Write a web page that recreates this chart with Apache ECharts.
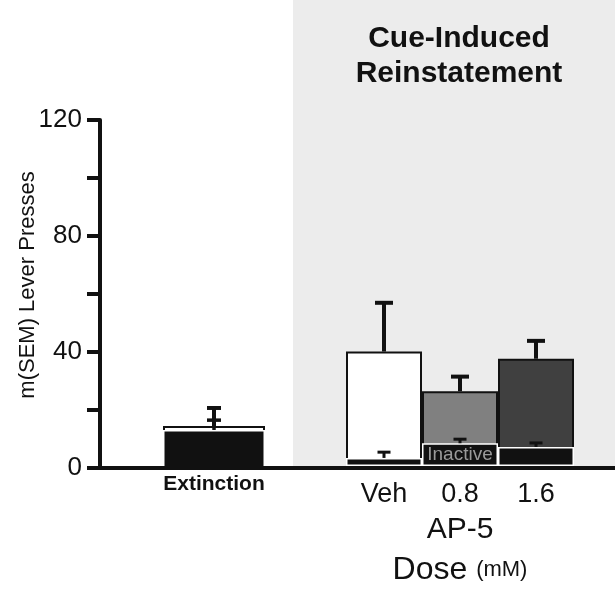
<!DOCTYPE html>
<html>
<head>
<meta charset="utf-8">
<script src="https://cdn.jsdelivr.net/npm/echarts@6/dist/echarts.min.js"></script>
<style>
  html, body { margin: 0; padding: 0; background: #fff; }
  #chart { width: 615px; height: 591px; }
</style>
</head>
<body>
<div id="chart"></div>
<script>
// values (lever presses, mean and SEM)
var yTicks = [0, 40, 80, 120];
var extLabel = ['Extinction'];
var extActive = [14.5];
var extActiveSem = [6.2];
var extInactive = [13.1];
var extInactiveSem = [3.4];

var doseLabels = ['Veh', '0.8', '1.6'];
var reinActive = [39.7, 25.9, 37.2];
var reinActiveSem = [16.9, 5.1, 6.2];
var reinInactive = [2.8, 7.9, 6.6];
var reinInactiveSem = [2.0, 1.4, 1.4];
var activeColors = ['#ffffff', '#808080', '#404040'];

var FONT = '"Liberation Sans", Arial, Helvetica, sans-serif';
var INK = '#111';

var chart = echarts.init(document.getElementById('chart'));

// error bar drawn from mean up to mean+sem
function errBar(capW, lw) {
  return function (params, api) {
    var x = api.value(0), m = api.value(1), s = api.value(2);
    var p0 = api.coord([x, m]);
    var p1 = api.coord([x, m + s]);
    return {
      type: 'group',
      children: [
        { type: 'line', shape: { x1: p0[0], y1: p0[1], x2: p1[0], y2: p1[1] }, style: { stroke: INK, lineWidth: lw } },
        { type: 'line', shape: { x1: p1[0] - capW / 2, y1: p1[1], x2: p1[0] + capW / 2, y2: p1[1] }, style: { stroke: INK, lineWidth: lw } }
      ]
    };
  };
}

function errData(means, sems) {
  return means.map(function (m, i) { return [i, m, sems[i]]; });
}

var hiddenY = function (idx) {
  return { type: 'value', gridIndex: idx, min: 0, max: 120, interval: 20, show: false };
};

var option = {
  animation: false,
  backgroundColor: '#fff',
  graphic: [
    { type: 'rect', z: -100, silent: true, shape: { x: 293, y: 0, width: 322, height: 468 }, style: { fill: '#ececec' } },
    { type: 'text', x: 459, y: 21, style: { text: 'Cue-Induced\nReinstatement', font: 'bold 30px ' + FONT, textAlign: 'center', fill: INK, lineHeight: 35 } }
  ],
  grid: [
    { left: 100, right: 0, top: 120, bottom: 123 },
    { left: 163, width: 102, top: 120, bottom: 123 },
    { left: 346, width: 228, top: 120, bottom: 123 }
  ],
  xAxis: [
    {
      type: 'value', gridIndex: 0, min: 0, max: 1, z: 10,
      axisLine: { show: true, lineStyle: { color: INK, width: 4 } },
      axisTick: { show: false }, axisLabel: { show: false }, splitLine: { show: false }
    },
    {
      type: 'category', gridIndex: 1, data: extLabel,
      axisLine: { show: false }, axisTick: { show: false },
      axisLabel: { margin: 6, color: INK, fontFamily: FONT, fontWeight: 'bold', fontSize: 21 }
    },
    {
      type: 'category', gridIndex: 2, data: doseLabels,
      axisLine: { show: false }, axisTick: { show: false },
      axisLabel: { margin: 15, color: INK, fontFamily: FONT, fontSize: 27 },
      name: '{a|AP-5}\n{b|Dose }{c|(mM)}',
      nameLocation: 'middle', nameGap: 44, nameMoveOverlap: false,
      nameTextStyle: {
        rich: {
          a: { fontFamily: FONT, fontSize: 30, color: INK, lineHeight: 40 },
          b: { fontFamily: FONT, fontSize: 32, color: INK, lineHeight: 40 },
          c: { fontFamily: FONT, fontSize: 22, color: INK, lineHeight: 40 }
        }
      }
    }
  ],
  yAxis: [
    {
      type: 'value', gridIndex: 0, min: 0, max: 120, interval: 20, z: 10,
      name: 'm(SEM) Lever Presses', nameLocation: 'middle', nameGap: 61, nameRotate: 90,
      nameMoveOverlap: false,
      nameTextStyle: { fontFamily: FONT, fontSize: 22, color: INK, padding: [0, 0, 0, 18] },
      axisLine: { show: true, lineStyle: { color: INK, width: 4 } },
      axisTick: { show: true, length: 13, lineStyle: { color: INK, width: 4 } },
      axisLabel: {
        margin: 18, color: INK, fontFamily: FONT, fontSize: 26,
        formatter: function (v) { return yTicks.indexOf(v) >= 0 ? String(v) : ''; }
      },
      splitLine: { show: false }
    },
    hiddenY(1),
    hiddenY(2)
  ],
  series: [
    // extinction
    {
      type: 'bar', xAxisIndex: 1, yAxisIndex: 1, data: extActive, z: 2,
      barWidth: '100%', barGap: '-100%',
      itemStyle: { color: '#fff', borderColor: INK, borderWidth: 2 }
    },
    {
      type: 'custom', xAxisIndex: 1, yAxisIndex: 1, z: 3,
      data: errData(extActive, extActiveSem), renderItem: errBar(14, 4)
    },
    {
      type: 'bar', xAxisIndex: 1, yAxisIndex: 1, data: extInactive, z: 4,
      barWidth: '100%', barGap: '-100%',
      itemStyle: { color: INK, borderColor: '#fff', borderWidth: 1.5 }
    },
    {
      type: 'custom', xAxisIndex: 1, yAxisIndex: 1, z: 5,
      data: errData(extInactive, extInactiveSem), renderItem: errBar(14, 3.5)
    },
    // reinstatement
    {
      type: 'bar', xAxisIndex: 2, yAxisIndex: 2, z: 2,
      barWidth: '100%', barGap: '-100%',
      data: reinActive.map(function (v, i) {
        return { value: v, itemStyle: { color: activeColors[i] } };
      }),
      itemStyle: { borderColor: INK, borderWidth: 2 }
    },
    {
      type: 'custom', xAxisIndex: 2, yAxisIndex: 2, z: 3,
      data: errData(reinActive, reinActiveSem), renderItem: errBar(18, 4)
    },
    {
      type: 'bar', xAxisIndex: 2, yAxisIndex: 2, z: 4,
      barWidth: '100%', barGap: '-100%',
      data: reinInactive.map(function (v, i) {
        return i === 1
          ? { value: v, label: { show: true, position: 'inside', formatter: 'Inactive', color: '#9a9a9a', fontFamily: FONT, fontSize: 19 } }
          : v;
      }),
      itemStyle: { color: INK, borderColor: '#fff', borderWidth: 1.5 }
    },
    {
      type: 'custom', xAxisIndex: 2, yAxisIndex: 2, z: 5,
      data: errData(reinInactive, reinInactiveSem), renderItem: errBar(13, 3)
    }
  ]
};

chart.setOption(option);
</script>
</body>
</html>
